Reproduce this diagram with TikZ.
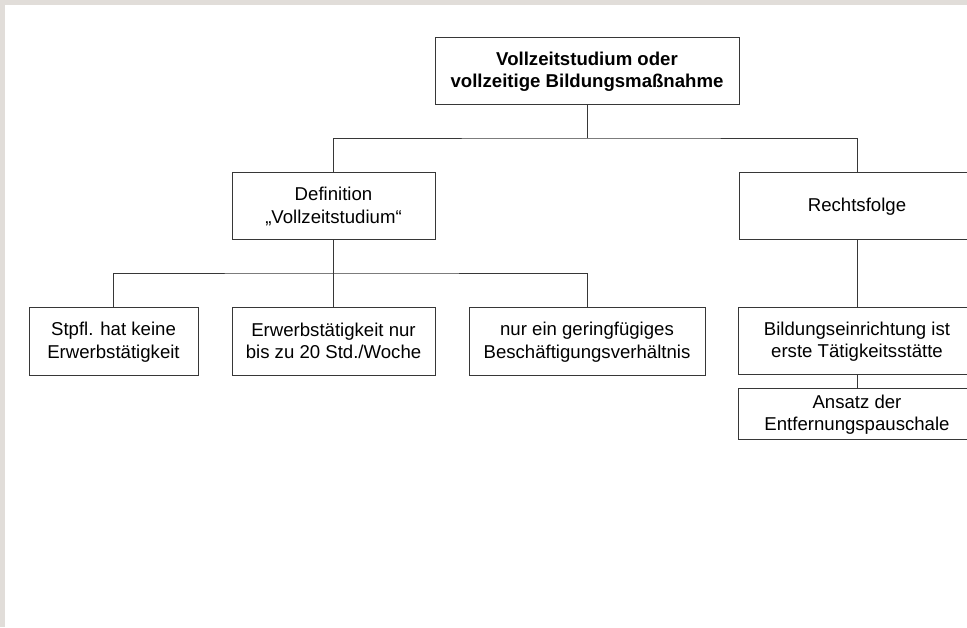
\documentclass[tikz,border=0pt]{standalone}
\usepackage{fontspec}
\setmainfont{Liberation Sans}
\definecolor{framec}{RGB}{225,221,217}
\definecolor{linec}{RGB}{55,55,55}
\newcommand{\tstr}{\rule{0pt}{16pt}}
\newcommand{\bstr}{\rule[-3pt]{0pt}{3pt}}
\begin{document}
\begin{tikzpicture}[x=1pt,y=-1pt,
  box/.style={draw=linec, line width=0.9pt, fill=white, inner sep=0pt, align=center,
    font=\fontsize{18.6}{22.7}\selectfont},
  conn/.style={draw=linec, line width=0.9pt}]
\useasboundingbox (0,0) rectangle (967,627);
\clip (0,0) rectangle (967,627);
\fill[framec] (0,0) rectangle (967,627);
\fill[white] (5,5) rectangle (967,627);

\node[box, minimum width=304pt, minimum height=67pt] (top) at (587,70.5)
  {\tstr\textbf{Vollzeitstudium oder}\\\textbf{vollzeitige Bildungsmaßnahme}\bstr};
\node[box, minimum width=203pt, minimum height=67pt] (def) at (333.5,205.5)
  {\tstr Definition\\„Vollzeitstudium“\bstr};
\node[box, minimum width=236pt, minimum height=67pt] (rf) at (857,205.5)
  {\tstr Rechtsfolge\bstr};
\node[box, minimum width=169pt, minimum height=68pt] (b1) at (113.5,341)
  {\tstr Stpfl. hat keine\\Erwerbstätigkeit\bstr};
\node[box, minimum width=203pt, minimum height=68pt] (b2) at (333.5,341)
  {\tstr Erwerbstätigkeit nur\\bis zu 20 Std./Woche\bstr};
\node[box, minimum width=236pt, minimum height=68pt] (b3) at (587,341)
  {\tstr nur ein geringfügiges\\Beschäftigungsverhältnis\bstr};
\node[box, minimum width=238pt, minimum height=67pt] (b4) at (857,340.5)
  {\tstr Bildungseinrichtung ist\\erste Tätigkeitsstätte\bstr};
\node[box, minimum width=238pt, minimum height=51pt] (b5) at (857,413.5)
  {\tstr Ansatz der\\Entfernungspauschale\bstr};

\coordinate (j1) at (587,138);
\coordinate (j2) at (333.5,273);

\draw[conn] (top.south) -- (j1);
\draw[conn] (def.north) |- (j1) -| (rf.north);
\draw[conn] (def.south) -- (j2);
\draw[conn] (b1.north) |- (j2) -| (b3.north);
\draw[conn] (j2) -- (b2.north);
\draw[conn] (rf.south) -- (b4.north);
\draw[conn] (b4.south) -- (b5.north);
\end{tikzpicture}
\end{document}
